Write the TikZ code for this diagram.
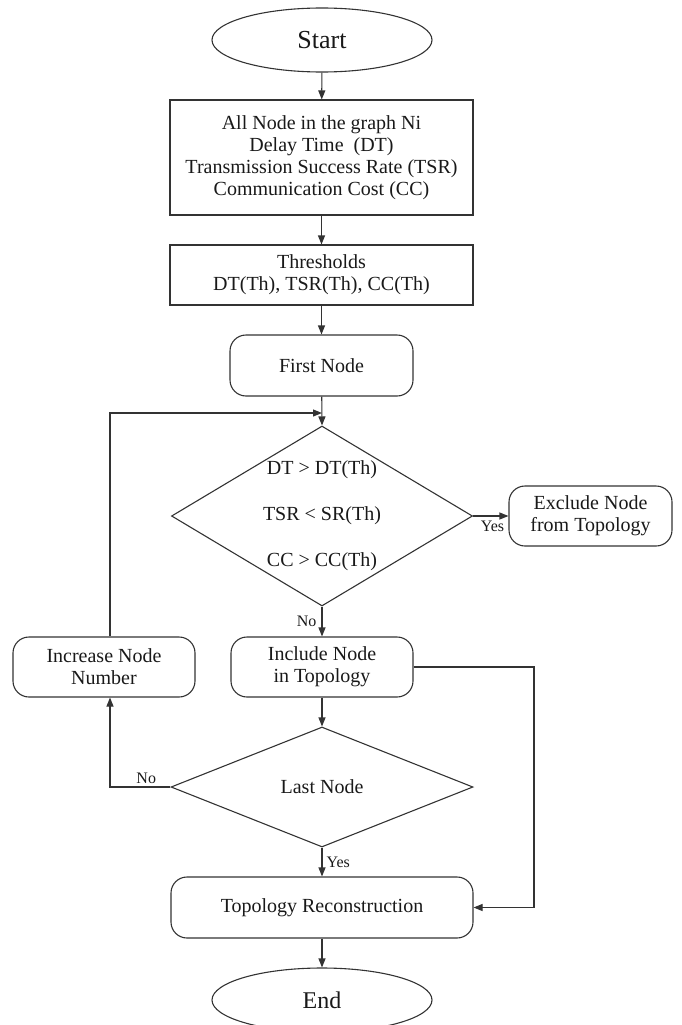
\documentclass[tikz,border=0pt]{standalone}
\usepackage{fontspec}
\setmainfont{Liberation Serif}
\usetikzlibrary{shapes.geometric,arrows.meta}
\begin{document}
\begin{tikzpicture}[x=1pt,y=-1pt,
  base/.style={draw=black!80, line width=1.1pt, text=black!90, font=\fontsize{20}{22}\selectfont, align=center, inner sep=0pt},
  term/.style={base, ellipse, minimum width=220pt, minimum height=64pt, font=\fontsize{24}{26}\selectfont},
  proc/.style={base, rectangle},
  rproc/.style={base, rectangle, rounded corners=16pt},
  decision/.style={base, diamond},
  dtext/.style={text=black!90, font=\fontsize{20}{22}\selectfont, align=center, inner sep=0pt},
  arr/.style={draw=black!80, line width=1.1pt, -{Triangle[length=9pt,width=7pt]}},
  lbl/.style={font=\fontsize{16}{18}\selectfont, text=black!90, inner sep=0pt}]
\useasboundingbox (0,0) rectangle (681,1025);
\node[term, font=\fontsize{26}{28}\selectfont] (start) at (322,40) {Start};
\node[proc, minimum width=303pt, minimum height=115pt] (b1) at (321.5,157.5)
  {All Node in the graph Ni\\Delay Time~~(DT)\\Transmission Success Rate (TSR)\\Communication Cost (CC)};
\node[proc, minimum width=303pt, minimum height=60pt] (b2) at (321.5,275)
  {Thresholds\\DT(Th), TSR(Th), CC(Th)};
\node[rproc, minimum width=183pt, minimum height=61pt] (first) at (321.5,365.5) {First Node};
\node[decision, minimum width=301pt, minimum height=180pt] (d1) at (322,516) {};
\node[dtext] (d1t) at (d1.center) {DT > DT(Th)\\[24pt]TSR < SR(Th)\\[24pt]CC > CC(Th)};
\node[rproc, minimum width=163pt, minimum height=60pt] (excl) at (590.5,516) {Exclude Node\\from Topology};
\node[rproc, minimum width=182pt, minimum height=60pt] (incr) at (104,667) {Increase Node\\Number};
\node[rproc, minimum width=182pt, minimum height=60pt] (incl) at (322,667) {Include Node\\in Topology};
\node[decision, minimum width=302pt, minimum height=120pt] (d2) at (322,787) {};
\node[dtext] (d2t) at (d2.center) {Last Node};
\node[rproc, minimum width=302pt, minimum height=61pt] (topo) at (322,907.5) {Topology Reconstruction};
\node[term] (end) at (322,1000) {End};
\coordinate (join) at (322,413);
\coordinate (rt) at (534,667);
\draw[arr] (start) -- (b1);
\draw[arr] (b1) -- (b2);
\draw[arr] (b2) -- (first);
\draw[arr] (first) -- (d1.north);
\draw[arr] ([xshift=6pt]incr.north) |- (join);
\draw[arr] (d1.east) -- (excl.west) node[lbl, pos=0.55, below=4pt] (yes1) {Yes};
\draw[arr] (d1.south) -- (incl.north) node[lbl, midway, left=5pt] (no1) {No};
\draw[arr] (incl) -- (d2.north);
\draw[arr] (d2.west) -| ([xshift=6pt]incr.south) node[lbl, pos=0.2, above=3pt] (no2) {No};
\draw[arr] (d2.south) -- (topo.north) node[lbl, midway, right=4pt] (yes2) {Yes};
\draw[arr] (incl.east) -- (rt) |- (topo.east);
\draw[arr] (topo) -- (end);
\end{tikzpicture}
\end{document}
